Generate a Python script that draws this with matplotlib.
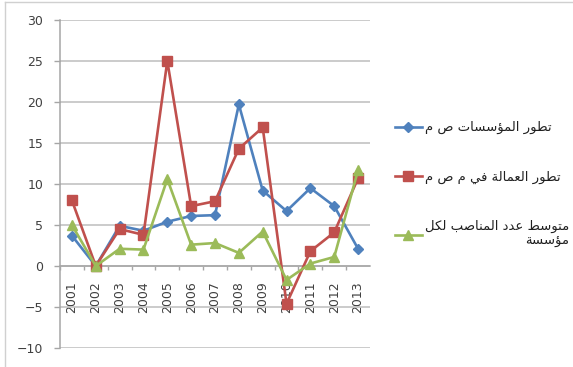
import matplotlib
matplotlib.use("Agg")
import matplotlib.pyplot as plt
from matplotlib.lines import Line2D

# ---- data -------------------------------------------------------------
years = ["2001", "2002", "2003", "2004", "2005", "2006", "2007",
         "2008", "2009", "2010", "2011", "2012", "2013"]
enterprises = [3.7, 0.0, 4.9, 4.3, 5.4, 6.1, 6.2, 19.7, 9.2, 6.7, 9.5, 7.3, 2.1]
employment = [8.0, 0.0, 4.5, 3.8, 25.0, 7.3, 7.9, 14.3, 16.9, -4.6, 1.8, 4.1, 10.7]
jobs_per_firm = [5.0, 0.0, 2.1, 2.0, 10.6, 2.6, 2.8, 1.6, 4.2, -1.7, 0.3, 1.1, 11.7]

labels = ["تطور المؤسسات ص م",
          "تطور العمالة في م ص م",
          "متوسط عدد المناصب لكل\nمؤسسة"]

colors = ["#4F81BD", "#C0504D", "#9BBB59"]
markers = ["D", "s", "^"]

# ---- minimal Arabic shaping (presentation forms + visual order) --------
FORMS = {  # isolated, final, initial, medial
    "ا": (0xFE8D, 0xFE8E, None, None),
    "ؤ": (0xFE85, 0xFE86, None, None),
    "ب": (0xFE8F, 0xFE90, 0xFE91, 0xFE92),
    "ة": (0xFE93, 0xFE94, None, None),
    "ت": (0xFE95, 0xFE96, 0xFE97, 0xFE98),
    "د": (0xFEA9, 0xFEAA, None, None),
    "ر": (0xFEAD, 0xFEAE, None, None),
    "س": (0xFEB1, 0xFEB2, 0xFEB3, 0xFEB4),
    "ص": (0xFEB9, 0xFEBA, 0xFEBB, 0xFEBC),
    "ط": (0xFEC1, 0xFEC2, 0xFEC3, 0xFEC4),
    "ع": (0xFEC9, 0xFECA, 0xFECB, 0xFECC),
    "ف": (0xFED1, 0xFED2, 0xFED3, 0xFED4),
    "ك": (0xFED9, 0xFEDA, 0xFEDB, 0xFEDC),
    "ل": (0xFEDD, 0xFEDE, 0xFEDF, 0xFEE0),
    "م": (0xFEE1, 0xFEE2, 0xFEE3, 0xFEE4),
    "ن": (0xFEE5, 0xFEE6, 0xFEE7, 0xFEE8),
    "و": (0xFEED, 0xFEEE, None, None),
    "ي": (0xFEF1, 0xFEF2, 0xFEF3, 0xFEF4),
}


def joins_forward(ch):
    return ch in FORMS and FORMS[ch][2] is not None


def shape_line(text):
    out = []
    for i, ch in enumerate(text):
        if ch not in FORMS:
            out.append(ch)
            continue
        prev = text[i - 1] if i > 0 else ""
        nxt = text[i + 1] if i + 1 < len(text) else ""
        from_prev = joins_forward(prev)
        to_next = joins_forward(ch) and nxt in FORMS
        iso, fin, ini, med = FORMS[ch]
        if from_prev and to_next:
            code = med
        elif from_prev:
            code = fin
        elif to_next:
            code = ini
        else:
            code = iso
        out.append(chr(code))
    return "".join(out)[::-1]


def shape(text):
    return "\n".join(shape_line(line) for line in text.split("\n"))


# ---- figure -----------------------------------------------------------
W, H, DPI = 573, 367, 100
fig = plt.figure(figsize=(W / DPI, H / DPI), dpi=DPI)
plt.rcParams["font.family"] = ["DejaVu Sans"]

ax = fig.add_axes([60 / W, 1 - 348 / H, 310 / W, 328 / H])

x = list(range(len(years)))
series = [enterprises, employment, jobs_per_firm]
handles = []
for vals, c, m, lab in zip(series, colors, markers, labels):
    ms = 5.5 if m == "D" else 6.5
    h, = ax.plot(x, vals, color=c, lw=1.9, marker=m, markersize=ms,
                 markerfacecolor=c, markeredgecolor=c, zorder=3,
                 label=shape(lab))
    handles.append(h)

ax.set_xlim(-0.5, len(years) - 0.5)
ax.set_ylim(-10, 30)
ax.set_yticks(range(-10, 31, 5))
ax.yaxis.grid(True, color="#bdbdbd", lw=1.1)
ax.set_axisbelow(True)

for side in ["top", "right"]:
    ax.spines[side].set_visible(False)
ax.spines["left"].set_color("#a6a6a6")
ax.spines["left"].set_linewidth(1.1)
ax.spines["bottom"].set_position(("data", 0))
ax.spines["bottom"].set_color("#a6a6a6")
ax.spines["bottom"].set_linewidth(1.1)

ax.set_xticks(x)
ax.set_xticklabels(years, rotation=90, fontsize=9, color="#404040")
ax.set_xticks([i + 0.5 for i in x[:-1]] + [-0.5], minor=True)
ax.tick_params(axis="x", which="major", length=0, pad=11)
ax.tick_params(axis="x", which="minor", length=3, color="#a6a6a6", width=1)
ax.tick_params(axis="y", length=4, color="#a6a6a6", width=1, pad=8,
               labelsize=9, labelcolor="#404040")

leg = ax.legend(handles=handles, loc="upper left",
                bbox_to_anchor=(390 / W, 1 - 116 / H),
                bbox_transform=fig.transFigure, frameon=False,
                fontsize=9.5, handlelength=2.0, handletextpad=0.25,
                labelspacing=2.75, borderaxespad=0)
for t in leg.get_texts():
    t.set_multialignment("right")
    t.set_color("#202020")

# chart area border
fig.add_artist(Line2D([5 / W, 5 / W], [0, 1 - 2 / H], color="#d0d0d0", lw=1))
fig.add_artist(Line2D([5 / W, 1], [1 - 2 / H, 1 - 2 / H], color="#d0d0d0", lw=1))

fig.savefig("out.png", dpi=DPI)
